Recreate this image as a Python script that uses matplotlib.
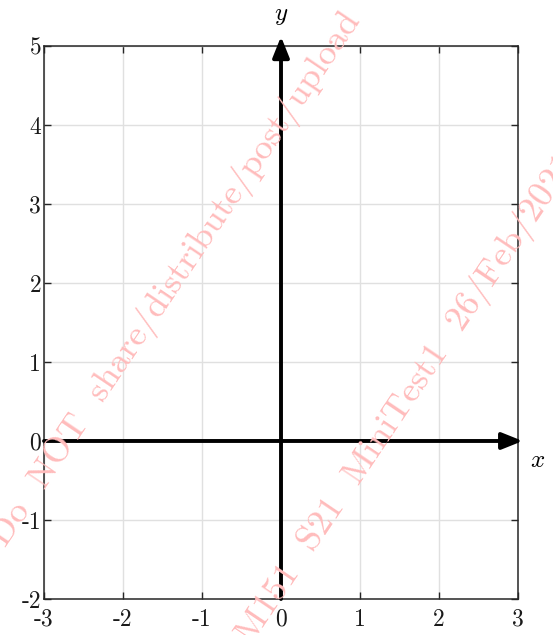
import matplotlib
matplotlib.use("Agg")
import matplotlib.pyplot as plt

# Axis ranges and tick labels
x_ticks = [-3, -2, -1, 0, 1, 2, 3]
y_ticks = [-2, -1, 0, 1, 2, 3, 4, 5]
x_tick_labels = ["-3", "-2", "-1", "0", "1", "2", "3"]
y_tick_labels = ["-2", "-1", "0", "1", "2", "3", "4", "5"]
x_range = (-3, 3)
y_range = (-2, 5)

# Watermark text lines
watermark_1 = "Do  NOT  share/distribute/post/upload"
watermark_2 = "M151  S21  MiniTest1  26/Feb/2021"

plt.rcParams["mathtext.fontset"] = "cm"
plt.rcParams["font.family"] = ["cmr10", "DejaVu Serif"]
plt.rcParams["axes.unicode_minus"] = False

fig = plt.figure(figsize=(5.53, 6.35), dpi=100)
ax = fig.add_axes([0.0796, 0.0567, 0.8571, 0.8709])

ax.set_xlim(*x_range)
ax.set_ylim(*y_range)
ax.set_xticks(x_ticks)
ax.set_yticks(y_ticks)
ax.set_xticklabels(x_tick_labels, fontsize=17)
ax.set_yticklabels(y_tick_labels, fontsize=17)
ax.tick_params(direction="in", length=5, width=1, color="#262626",
               labelcolor="#1a1a1a", top=True, right=True, pad=2)
ax.tick_params(axis="x", pad=7)
ax.grid(True, color="#e0e0e0", linewidth=1)
ax.set_axisbelow(True)
for s in ax.spines.values():
    s.set_color("#262626")
    s.set_linewidth(1.1)

# Coordinate axes as arrows
arrow_kw = dict(arrowstyle="-|>,head_length=0.9,head_width=0.36",
                color="black", lw=2.8, shrinkA=0, shrinkB=0,
                mutation_scale=14)
ax.annotate("", xy=(x_range[1] + 0.06, 0), xytext=(x_range[0], 0),
            arrowprops=arrow_kw, annotation_clip=False, zorder=5)
ax.annotate("", xy=(0, y_range[1] + 0.12), xytext=(0, y_range[0]),
            arrowprops=arrow_kw, annotation_clip=False, zorder=5)

ax.text(x_range[1] + 0.25, -0.25, "$x$", fontsize=18, ha="center", va="center")
ax.text(0, y_range[1] + 0.38, "$y$", fontsize=18, ha="center", va="center")

# watermark
wm = dict(rotation=56, fontsize=26, color="#ffbcbc", ha="left", va="baseline",
          rotation_mode="anchor", zorder=0)
fig.text(6 / 553, 1 - 548 / 635, watermark_1, **wm)
fig.text(252 / 553, 1 - 645 / 635, watermark_2, **wm)

fig.savefig("out.png", dpi=100)
